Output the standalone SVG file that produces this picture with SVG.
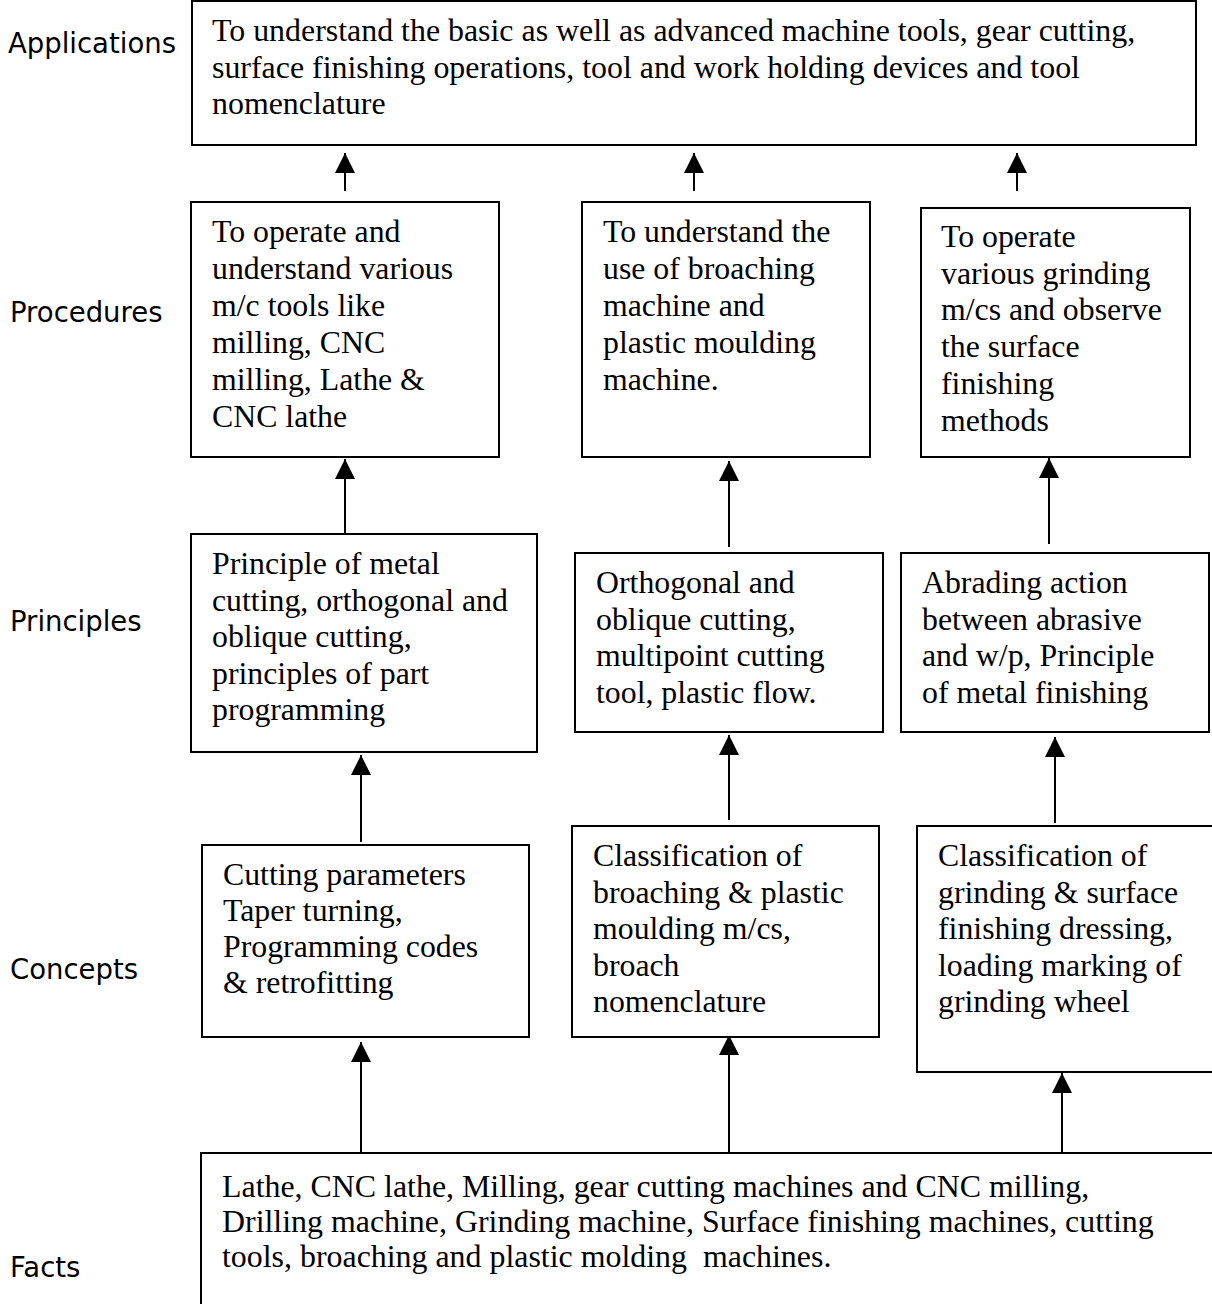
<svg xmlns="http://www.w3.org/2000/svg" width="1212" height="1304" viewBox="0 0 1212 1304">
<style>
.box{fill:#fff;stroke:#000;stroke-width:2}
.t{font-family:"Liberation Serif","Times New Roman",serif;font-size:31.8px;fill:#000}
.w{font-size:31.9px}
.lbl{font-family:"DejaVu Sans",Verdana,sans-serif;font-size:27.5px;fill:#000}
.c{stroke:#000;stroke-width:2;fill:none;marker-end:url(#ah)}
</style>
<defs>
<marker id="ah" markerUnits="userSpaceOnUse" markerWidth="20" markerHeight="20" refX="20" refY="10" orient="auto">
<path d="M0,0 L20,10 L0,20 z" fill="#000"/>
</marker>
</defs>
<rect width="1212" height="1304" fill="#fff"/>
<g id="labels">
<text class="lbl" x="8" y="53">Applications</text>
<text class="lbl" x="10" y="322">Procedures</text>
<text class="lbl" x="10" y="631">Principles</text>
<text class="lbl" x="10" y="979">Concepts</text>
<text class="lbl" x="10" y="1277">Facts</text>
</g>
<g id="connectors">
<line class="c" x1="345" y1="191" x2="345" y2="153"/>
<line class="c" x1="694" y1="191" x2="694" y2="153"/>
<line class="c" x1="1017" y1="191" x2="1017" y2="153"/>
<line class="c" x1="345" y1="534" x2="345" y2="459"/>
<line class="c" x1="729" y1="547" x2="729" y2="461"/>
<line class="c" x1="1049" y1="544" x2="1049" y2="458"/>
<line class="c" x1="361" y1="842" x2="361" y2="755"/>
<line class="c" x1="729" y1="820" x2="729" y2="735"/>
<line class="c" x1="1055" y1="823" x2="1055" y2="737"/>
<line class="c" x1="361" y1="1153" x2="361" y2="1042"/>
<line class="c" x1="729" y1="1155" x2="729" y2="1035"/>
<line class="c" x1="1062" y1="1155" x2="1062" y2="1073"/>
</g>
<g id="applications">
<rect class="box" x="192" y="1" width="1004" height="144"/>
<text class="t w" x="212" y="41">To understand the basic as well as advanced machine tools, gear cutting,</text>
<text class="t w" x="212" y="78">surface finishing operations, tool and work holding devices and tool</text>
<text class="t w" x="212" y="114">nomenclature</text>
</g>
<g id="procedures1">
<rect class="box" x="191" y="202" width="308" height="255"/>
<text class="t" x="212" y="242">To operate and</text>
<text class="t" x="212" y="279">understand various</text>
<text class="t" x="212" y="316">m/c tools like</text>
<text class="t" x="212" y="353">milling, CNC</text>
<text class="t" x="212" y="390">milling, Lathe &amp;</text>
<text class="t" x="212" y="427">CNC lathe</text>
</g>
<g id="procedures2">
<rect class="box" x="582" y="202" width="288" height="255"/>
<text class="t" x="603" y="242">To understand the</text>
<text class="t" x="603" y="279">use of broaching</text>
<text class="t" x="603" y="316">machine and</text>
<text class="t" x="603" y="353">plastic moulding</text>
<text class="t" x="603" y="390">machine.</text>
</g>
<g id="procedures3">
<rect class="box" x="921" y="208" width="269" height="249"/>
<text class="t" x="941" y="247">To operate</text>
<text class="t" x="941" y="284">various grinding</text>
<text class="t" x="941" y="320">m/cs and observe</text>
<text class="t" x="941" y="357">the surface</text>
<text class="t" x="941" y="394">finishing</text>
<text class="t" x="941" y="431">methods</text>
</g>
<g id="principles1">
<rect class="box" x="191" y="534" width="346" height="218"/>
<text class="t" x="212" y="574">Principle of metal</text>
<text class="t" x="212" y="610.5">cutting, orthogonal and</text>
<text class="t" x="212" y="647">oblique cutting,</text>
<text class="t" x="212" y="683.5">principles of part</text>
<text class="t" x="212" y="720">programming</text>
</g>
<g id="principles2">
<rect class="box" x="575" y="553" width="308" height="179"/>
<text class="t" x="596" y="593">Orthogonal and</text>
<text class="t" x="596" y="629.5">oblique cutting,</text>
<text class="t" x="596" y="666">multipoint cutting</text>
<text class="t" x="596" y="703">tool, plastic flow.</text>
</g>
<g id="principles3">
<rect class="box" x="901" y="553" width="308" height="179"/>
<text class="t" x="922" y="593">Abrading action</text>
<text class="t" x="922" y="629.5">between abrasive</text>
<text class="t" x="922" y="666">and w/p, Principle</text>
<text class="t" x="922" y="703">of metal finishing</text>
</g>
<g id="concepts1">
<rect class="box" x="202" y="845" width="327" height="192"/>
<text class="t" x="223" y="885">Cutting parameters</text>
<text class="t" x="223" y="921">Taper turning,</text>
<text class="t" x="223" y="957">Programming codes</text>
<text class="t" x="223" y="993">&amp; retrofitting</text>
</g>
<g id="concepts2">
<rect class="box" x="572" y="826" width="307" height="211"/>
<text class="t" x="593" y="866">Classification of</text>
<text class="t" x="593" y="902.5">broaching &amp; plastic</text>
<text class="t" x="593" y="939">moulding m/cs,</text>
<text class="t" x="593" y="975.5">broach</text>
<text class="t" x="593" y="1012">nomenclature</text>
</g>
<g id="concepts3">
<rect class="box" x="917" y="826" width="300" height="246"/>
<text class="t" x="938" y="866">Classification of</text>
<text class="t" x="938" y="902.5">grinding &amp; surface</text>
<text class="t" x="938" y="939">finishing dressing,</text>
<text class="t" x="938" y="975.5">loading marking of</text>
<text class="t" x="938" y="1012">grinding wheel</text>
</g>
<g id="facts">
<rect class="box" x="201" y="1153" width="1020" height="160"/>
<text class="t w" x="222" y="1197">Lathe, CNC lathe, Milling, gear cutting machines and CNC milling,</text>
<text class="t w" x="222" y="1232">Drilling machine, Grinding machine, Surface finishing machines, cutting</text>
<text class="t w" x="222" y="1267">tools, broaching and plastic molding&#160; machines.</text>
</g>
</svg>
